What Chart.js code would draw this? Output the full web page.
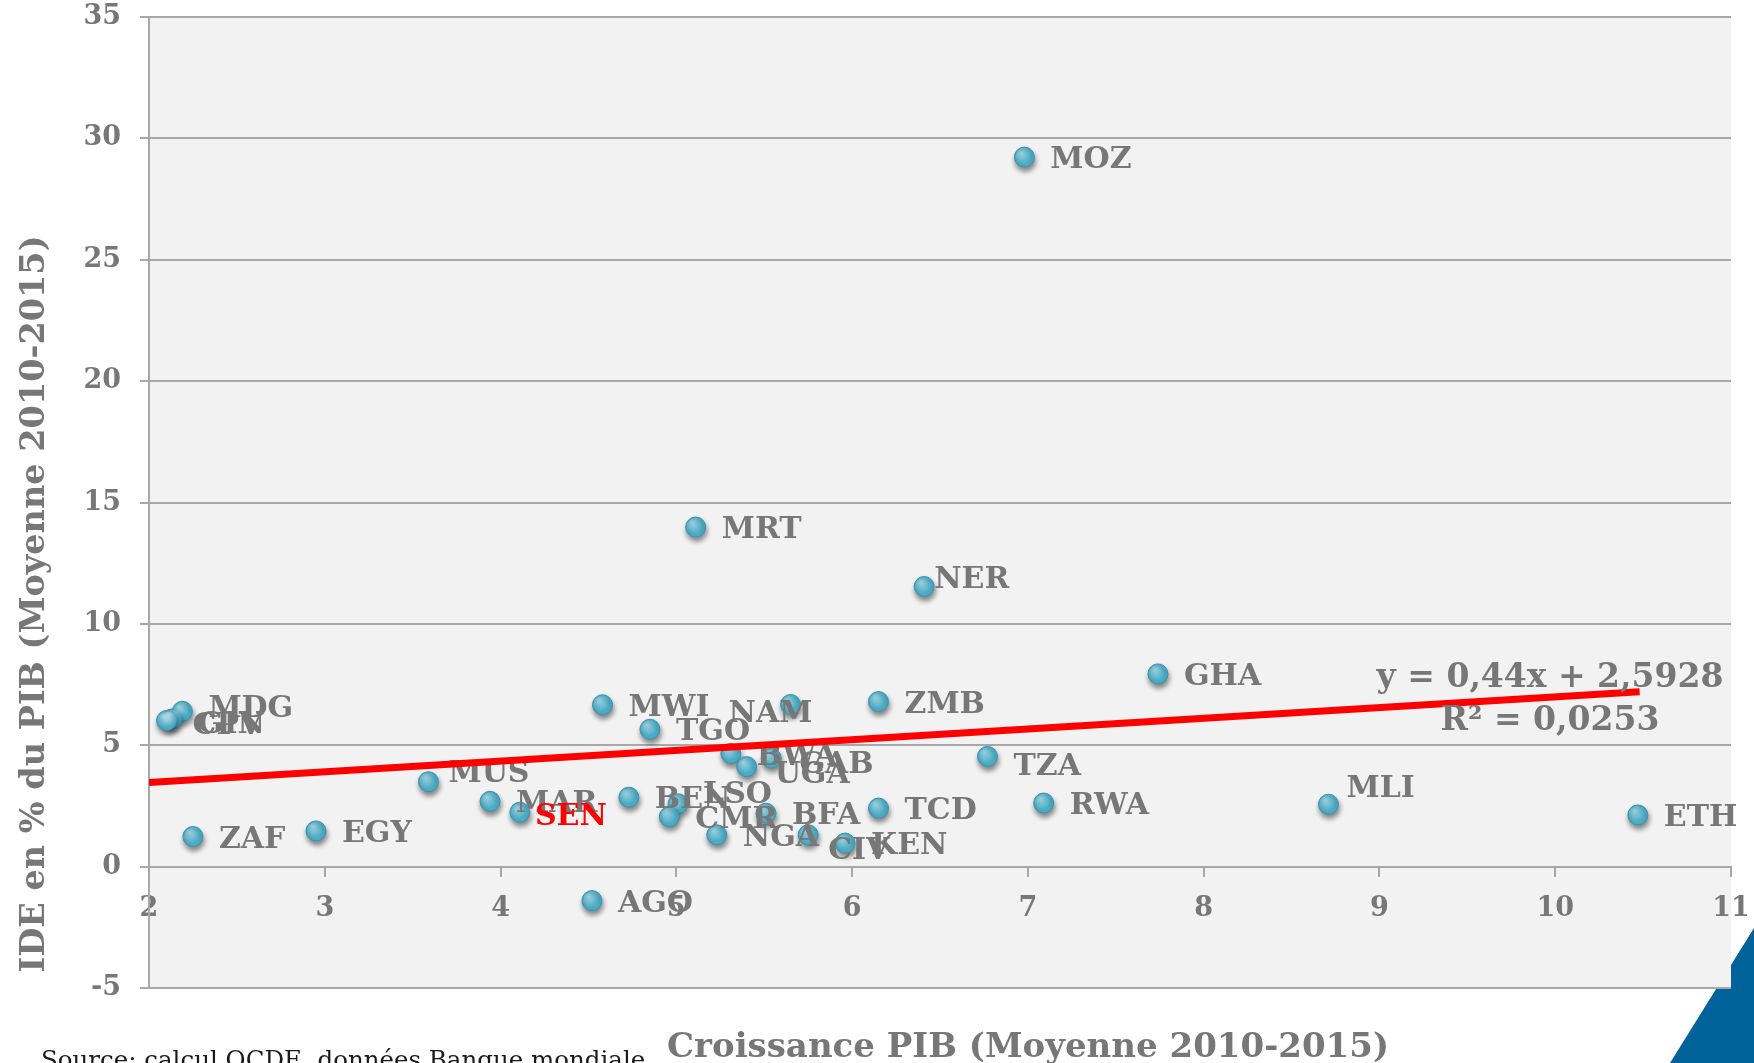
<!DOCTYPE html>
<html><head><meta charset="utf-8">
<script src="https://cdn.jsdelivr.net/npm/chart.js@4.4.1/dist/chart.umd.min.js"></script>
<style>html,body{margin:0;padding:0;background:#fff;overflow:hidden}canvas{display:block}</style>
</head><body>
<canvas id="c" width="1754" height="1063"></canvas>
<script>
// ---- Data ----
const countries = ['MOZ','MRT','NER','GHA','ZMB','NAM','MWI','TGO','MDG','GIN','CPV','BWA','GAB','UGA','TZA','MUS','MAR','SEN','BEN','LSO','CMR','BFA','TCD','RWA','MLI','ETH','NGA','CIV','KEN','ZAF','EGY','AGO'];
const gdpGrowth = [6.98,5.11,6.41,7.74,6.15,5.65,4.58,4.85,2.19,2.13,2.10,5.31,5.54,5.40,6.77,3.59,3.94,4.11,4.73,5.01,4.96,5.51,6.15,7.09,8.71,10.47,5.23,5.75,5.96,2.25,2.95,4.52];
const fdiShare  = [29.23,13.99,11.54,7.94,6.80,6.68,6.67,5.66,6.40,6.08,6.02,4.66,4.47,4.12,4.54,3.50,2.69,2.24,2.86,2.59,2.06,2.20,2.41,2.62,2.57,2.13,1.31,1.31,0.97,1.24,1.47,-1.40];
const trendX = [2, 10.48];
const trendY = [3.47, 7.20];
const xTickValues = [2,3,4,5,6,7,8,9,10,11];
const yTickValues = [-5,0,5,10,15,20,25,30,35];
const xTitle = 'Croissance PIB (Moyenne 2010-2015)';
const yTitle = 'IDE en % du PIB (Moyenne 2010-2015)';
const eqLine1 = 'y = 0,44x + 2,5928';
const eqLine2 = 'R² = 0,0253';
const sourceText = 'Source: calcul OCDE, données Banque mondiale';
const highlighted = 'SEN';

// ---- Styling ----
const FONT = '"DejaVu Serif", serif';
const GRAY = '#777777';
const GRID = '#a8a8a8';
const labelShift = {NAM:[-62,7], NER:[10,-9], MLI:[18,-18], CIV:[20,13], MUS:[20,-11], SEN:[15,2], LSO:[25,-12], TZA:[26,8], UGA:[28,5], GAB:[28,4], MDG:[26,-5], GIN:[26,3], CPV:[26,3]};
const defaultShift = [26, 0];

const decor = {
  id: 'decor',
  beforeDraw(chart){
    const {ctx, chartArea:a, width, height} = chart;
    ctx.save();
    ctx.fillStyle = '#02629a';
    ctx.beginPath();
    ctx.moveTo(width, 928); ctx.lineTo(width, height); ctx.lineTo(1670, height);
    ctx.closePath(); ctx.fill();
    ctx.fillStyle = '#f2f2f2';
    ctx.fillRect(a.left, a.top, a.right - a.left, a.bottom - a.top);
    ctx.restore();
  },
  beforeDatasetDraw(chart, args){
    if (args.index !== 1) return;
    const ctx = chart.ctx;
    ctx.save();
    ctx.shadowColor = 'rgba(0,0,0,0.45)';
    ctx.shadowBlur = 5;
    ctx.shadowOffsetX = 1;
    ctx.shadowOffsetY = 4;
  },
  afterDatasetDraw(chart, args){
    if (args.index !== 1) return;
    const ctx = chart.ctx;
    ctx.restore();
    const meta = chart.getDatasetMeta(1);
    ctx.save();
    meta.data.forEach(pt => {
      if (!isFinite(pt.x) || !isFinite(pt.y)) return;
      const g = ctx.createRadialGradient(pt.x - 3, pt.y - 4, 0.5, pt.x - 2, pt.y - 2, 9);
      g.addColorStop(0, 'rgba(255,255,255,0.45)');
      g.addColorStop(1, 'rgba(255,255,255,0)');
      ctx.fillStyle = g;
      ctx.beginPath(); ctx.arc(pt.x, pt.y, 9, 0, Math.PI * 2); ctx.fill();
    });
    ctx.font = 'bold 30px ' + FONT;
    ctx.textAlign = 'left';
    ctx.textBaseline = 'alphabetic';
    meta.data.forEach((pt, i) => {
      const name = countries[i];
      const s = labelShift[name] || defaultShift;
      ctx.fillStyle = name === highlighted ? '#ff0000' : GRAY;
      ctx.fillText(name, pt.x + s[0], pt.y + s[1] + 11);
    });
    ctx.restore();
  },
  afterDraw(chart){
    const ctx = chart.ctx;
    ctx.save();
    ctx.fillStyle = GRAY;
    ctx.textAlign = 'center';
    ctx.textBaseline = 'alphabetic';
    ctx.font = 'bold 34px ' + FONT;
    ctx.fillText(xTitle, 1028, 1057);
    ctx.save();
    ctx.translate(44, 604);
    ctx.rotate(-Math.PI/2);
    ctx.font = 'bold 33.5px ' + FONT;
    ctx.fillText(yTitle, 0, 0);
    ctx.restore();
    ctx.font = 'bold 33px ' + FONT;
    ctx.fillText(eqLine1, 1550, 687);
    ctx.fillText(eqLine2, 1550, 730);
    ctx.fillStyle = '#1a1a1a';
    ctx.font = '24.5px ' + FONT;
    ctx.textAlign = 'left';
    ctx.fillText(sourceText, 41, 1068);
    ctx.restore();
  }
};

new Chart(document.getElementById('c'), {
  type: 'scatter',
  data: {
    datasets: [
      {
        label: 'Tendance',
        data: trendX.map((x, i) => ({x, y: trendY[i]})),
        showLine: true,
        borderColor: '#ff0000',
        borderWidth: 7,
        pointRadius: 0,
        fill: false
      },
      {
        label: 'Pays',
        data: gdpGrowth.map((x, i) => ({x, y: fdiShare[i]})),
        pointRadius: 10,
        pointHoverRadius: 10,
        backgroundColor: '#4bacc6',
        borderColor: '#3a93b1',
        borderWidth: 1
      }
    ]
  },
  options: {
    responsive: false,
    devicePixelRatio: 1,
    animation: false,
    layout: {padding: {left: 0, right: 23, top: 17, bottom: 75}},
    plugins: {legend: {display: false}, tooltip: {enabled: false}},
    scales: {
      x: {
        type: 'linear', min: 2, max: 11,
        position: {y: 0},
        afterFit: s => { s.paddingLeft = 0; s.paddingRight = 0; s.paddingTop = 0; s.paddingBottom = 0; },
        afterBuildTicks: s => { s.ticks = xTickValues.map(v => ({value: v})); },
        grid: {drawOnChartArea: false, drawTicks: true, tickLength: 9, color: GRID, lineWidth: 2},
        border: {display: true, color: GRID, width: 2},
        ticks: {font: {family: FONT, size: 27, weight: 'bold'}, color: GRAY, padding: 17, maxRotation: 0, autoSkip: false}
      },
      y: {
        type: 'linear', min: -5, max: 35,
        position: 'left',
        afterFit: s => { s.width = 149; s.paddingTop = 0; s.paddingBottom = 0; s.paddingLeft = 0; s.paddingRight = 0; },
        afterBuildTicks: s => { s.ticks = yTickValues.map(v => ({value: v})); },
        grid: {color: GRID, lineWidth: 2, drawTicks: true, tickLength: 9},
        border: {display: true, color: GRID, width: 2},
        ticks: {font: {family: FONT, size: 27, weight: 'bold'}, color: GRAY, padding: 19}
      }
    }
  },
  plugins: [decor]
});
</script>
</body></html>
